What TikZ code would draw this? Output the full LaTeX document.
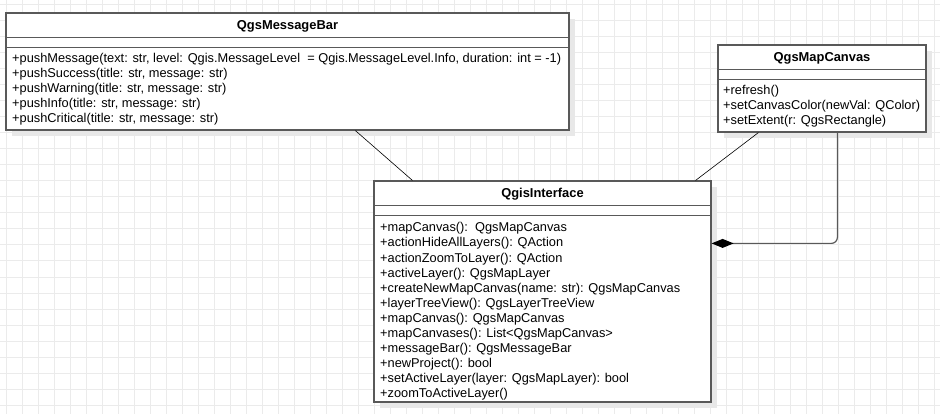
\documentclass[tikz,border=0pt]{standalone}
\usepackage{fontspec}
\setmainfont{Liberation Sans}
\usetikzlibrary{arrows.meta,shadows}

\definecolor{umlgray}{HTML}{595959}
\definecolor{gridgray}{HTML}{EBEBEB}

\tikzset{
  umlbox/.style={draw=umlgray, line width=1.2pt, fill=white, inner sep=0pt,
    drop shadow={shadow xshift=6pt, shadow yshift=-6pt, fill=black!9, opacity=1}},
  umlline/.style={draw=umlgray, line width=1.2pt},
  classname/.style={font=\fontsize{12.9}{15}\selectfont\bfseries, inner sep=0pt, anchor=base},
  method/.style={font=\fontsize{12.8}{15}\selectfont, inner sep=0pt, anchor=base west},
  assoc/.style={draw=black, line width=0.6pt},
  compose/.style={draw=umlgray, line width=1.2pt, rounded corners=6pt,
    -{Diamond[length=22pt,width=9pt,fill=black,color=black]}}
}

\begin{document}
\begin{tikzpicture}[x=1pt, y=-1pt]
  \useasboundingbox (0,0) rectangle (940,414);
  \fill[white] (0,0) rectangle (940,414);
  % background grid
  \foreach \gx in {6,22,...,934}
    \draw[gridgray, line width=1pt] (\gx,0) -- (\gx,414);
  \foreach \gy in {5,21,...,405}
    \draw[gridgray, line width=1pt] (0,\gy) -- (940,\gy);

  % classes
  \node[umlbox, minimum width=563pt, minimum height=117pt] (msgbar) at (287.5,71.5) {};
  \node[umlbox, minimum width=208pt, minimum height=87pt] (canvas) at (822,88.5) {};
  \node[umlbox, minimum width=337pt, minimum height=221pt] (iface) at (542.5,291.5) {};

  % compartments
  \foreach \cls in {msgbar,canvas,iface} {
    \draw[umlline] ([yshift=-25pt]\cls.north west) -- ([yshift=-25pt]\cls.north east);
    \draw[umlline] ([yshift=-35pt]\cls.north west) -- ([yshift=-35pt]\cls.north east);
  }

  \node[classname] (msgbar-name) at (287.5,29.5) {QgsMessageBar};
  \node[classname] (canvas-name) at (822,62) {QgsMapCanvas};
  \node[classname] (iface-name) at (542.5,197.5) {QgisInterface};

  \foreach \t [count=\i] in {
      {+pushMessage(text: str, level: Qgis.MessageLevel\ \ = Qgis.MessageLevel.Info, duration: int = -1)},
      {+pushSuccess(title: str, message: str)},
      {+pushWarning(title: str, message: str)},
      {+pushInfo(title: str, message: str)},
      {+pushCritical(title: str, message: str)}}
    \node[method] (msgbar-m\i) at (12,47.5+15*\i) {\t};

  \foreach \t [count=\i] in {
      {+refresh()},
      {+setCanvasColor(newVal: QColor)},
      {+setExtent(r: QgsRectangle)}}
    \node[method] (canvas-m\i) at (723,79.5+15*\i) {\t};

  \foreach \t [count=\i] in {
      {+mapCanvas():\ \ QgsMapCanvas},
      {+actionHideAllLayers(): QAction},
      {+actionZoomToLayer(): QAction},
      {+activeLayer(): QgsMapLayer},
      {+createNewMapCanvas(name: str): QgsMapCanvas},
      {+layerTreeView(): QgsLayerTreeView},
      {+mapCanvas(): QgsMapCanvas},
      {+mapCanvases(): List<QgsMapCanvas>},
      {+messageBar(): QgsMessageBar},
      {+newProject(): bool},
      {+setActiveLayer(layer: QgsMapLayer): bool},
      {+zoomToActiveLayer()}}
    \node[method] (iface-m\i) at (380,217+15*\i) {\t};

  % relations
  \draw[assoc] ([xshift=350pt]msgbar.south west) -- ([xshift=39pt]iface.north west);
  \draw[assoc] ([xshift=41pt]canvas.south west) -- ([xshift=-16pt]iface.north east);
  \draw[compose] ([xshift=120pt]canvas.south west) |- ([yshift=-63pt]iface.north east);
\end{tikzpicture}
\end{document}
